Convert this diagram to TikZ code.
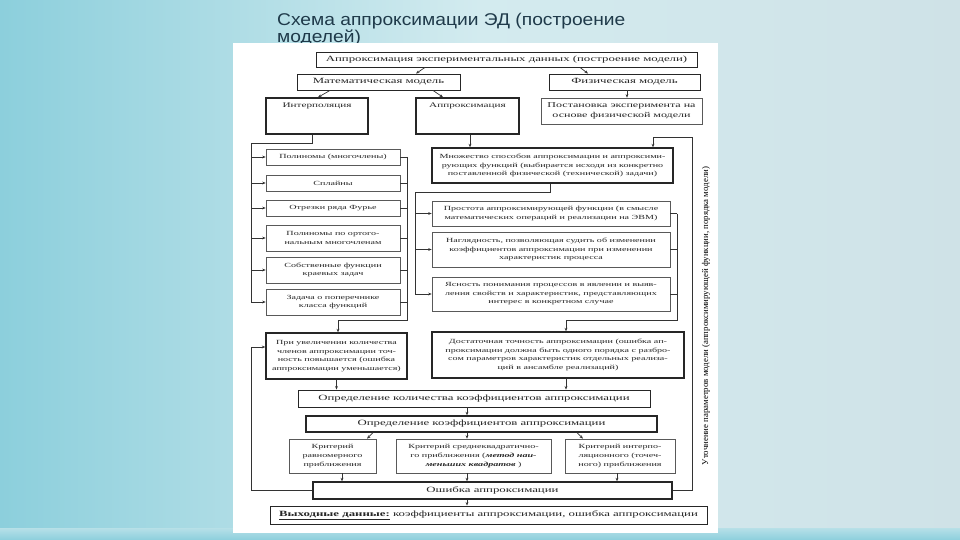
\documentclass[tikz,border=0pt]{standalone}
\usepackage{fontspec}
\setmainfont{Liberation Serif}
\newfontfamily\scanfont[FakeStretch=1.6]{Liberation Serif}
\newfontfamily\titlefont[FakeStretch=1.13]{Liberation Sans}
\usetikzlibrary{arrows.meta,shadows}
\definecolor{bgleft}{HTML}{8CCFDC}
\definecolor{bgmid}{HTML}{D3EBEF}
\definecolor{bgright}{HTML}{CFE2E7}
\definecolor{titlecol}{HTML}{1F3A4A}
\begin{document}
\begin{tikzpicture}[x=1pt, y=-1pt, >={Stealth[length=3.5pt,width=2.8pt]},
  every node/.style={text=black!85},
  sz/.style 2 args={minimum width=#1pt, minimum height=#2pt},
  bx/.style={draw=black!85, fill=white, line width=0.9pt, inner sep=1pt, align=center,
    font=\scanfont\fontsize{8}{9.5}\selectfont},
  thk/.style={bx, line width=1.4pt},
  thn/.style={bx, draw=black!65, line width=0.6pt,
    drop shadow={shadow xshift=1pt, shadow yshift=-1pt, fill=black!35, opacity=1}},
  sm/.style={font=\scanfont\fontsize{6.3}{8.6}\selectfont},
  md/.style={font=\scanfont\fontsize{7}{9}\selectfont},
  ln/.style={draw=black!80, line width=0.7pt}]
% background of the slide
\shade[left color=bgleft, right color=bgright, middle color=bgmid] (0,0) rectangle (960,540);
\shade[top color=bgmid!60!bgleft, bottom color=bgleft] (0,528) rectangle (960,540);
\useasboundingbox (0,0) rectangle (960,540);
\node[font=\titlefont\fontsize{17}{17.5}\selectfont, text=titlecol, align=left,
  anchor=north west, inner sep=0pt] (title) at (277,12.5) {Схема аппроксимации ЭД (построение\\моделей)};
\fill[white] (233,43) rectangle (718,533);

% upper part
\node[bx, sz={381}{15}] (top) at (506.5,59.5) {Аппроксимация экспериментальных данных (построение модели)};
\node[bx, sz={163}{16}] (math) at (378.5,82) {Математическая модель};
\node[bx, sz={151}{16}] (phys) at (624.5,82) {Физическая модель};
\node[thk, md, sz={102}{36}, text depth=22pt] (interp) at (317,116) {Интерполяция};
\node[thk, md, sz={103}{36}, text depth=22pt] (approx) at (467.5,116) {Аппроксимация};
\node[thn, font=\scanfont\fontsize{7.5}{9.5}\selectfont, sz={161}{26}] (setup) at (621.5,111) {Постановка эксперимента на\\основе физической модели};

% interpolation list
\node[thn, sm, sz={134}{16}] (poly) at (333,157) {Полиномы (многочлены)};
\node[thn, sm, sz={134}{16}] (spl) at (333,183) {Сплайны};
\node[thn, sm, sz={134}{16}] (four) at (333,208) {Отрезки ряда Фурье};
\node[thn, sm, sz={134}{26}] (orth) at (333,238) {Полиномы по ортого-\\нальным многочленам};
\node[thn, sm, sz={134}{26}] (eig) at (333,270) {Собственные функции\\краевых задач};
\node[thn, sm, sz={134}{26}] (width) at (333,302) {Задача о поперечнике\\класса функций};

% approximation list
\node[thk, sm, sz={241}{35}] (mnozh) at (552.5,165.5) {Множество способов аппроксимации и аппроксими-\\рующих функций (выбирается исходя из конкретно\\поставленной физической (технической) задачи)};
\node[thn, sm, sz={238}{25}] (prost) at (551,213.5) {Простота аппроксимирующей функции (в смысле\\математических операций и реализации на ЭВМ)};
\node[thn, sm, sz={238}{35}] (nagl) at (551,249.5) {Наглядность, позволяющая судить об изменении\\коэффициентов аппроксимации при изменении\\характеристик процесса};
\node[thn, sm, sz={238}{34}] (yasn) at (551,294) {Ясность понимания процессов в явлении и выяв-\\ления свойств и характеристик, представляющих\\интерес в конкретном случае};

% lower part
\node[thk, sm, sz={141}{46}] (pri) at (336.5,356) {При увеличении количества\\членов аппроксимации точ-\\ность повышается (ошибка\\аппроксимации уменьшается)};
\node[thk, sm, sz={252}{46}] (dost) at (558,355) {Достаточная точность аппроксимации (ошибка ап-\\проксимации должна быть одного порядка с разбро-\\сом параметров характеристик отдельных реализа-\\ций в ансамбле реализаций)};
\node[bx, sz={352}{17}] (kol) at (474,398.5) {Определение количества коэффициентов аппроксимации};
\node[thk, sz={351}{16}] (koef) at (481.5,424) {Определение коэффициентов аппроксимации};
\node[thn, sm, sz={87}{34}] (krit1) at (332.5,456) {Критерий\\равномерного\\приближения};
\node[thn, sm, sz={155}{34}] (krit2) at (473.5,456) {Критерий среднеквадратично-\\го приближения (\textbf{\textit{метод наи-}}\\\textbf{\textit{меньших квадратов}} )};
\node[thn, sm, sz={110}{34}] (krit3) at (620,456) {Критерий интерпо-\\ляционного (точеч-\\ного) приближения};
\node[thk, sz={359}{17}] (err) at (492.5,490.5) {Ошибка аппроксимации};
\node[bx, sz={437}{18}] (out) at (488.5,515) {\underline{\textbf{Выходные данные:}} коэффициенты аппроксимации, ошибка аппроксимации};
\node[font=\fontsize{8.8}{10}\selectfont, rotate=90, inner sep=0pt, text=black] (fbtext) at (706,316) {Уточнение параметров модели (аппроксимирующей функции, порядка модели)};

% connectors
\coordinate (lbus) at (251,0);
\coordinate (lrb) at (407,320);
\coordinate (rbus) at (415,192);
\coordinate (rrb) at (677,320);
\coordinate (mid) at (467,0);
\coordinate (fbl) at (251,347);
\coordinate (fbr) at (692,137);
\draw[ln,->] ([xshift=-81.5pt]top.south) -- ([xshift=37.5pt]math.north);
\draw[ln,->] ([xshift=73.5pt]top.south) -- ([xshift=-36.5pt]phys.north);
\draw[ln,->] ([xshift=-48.5pt]math.south) -- ([xshift=1pt]interp.north);
\draw[ln,->] ([xshift=54.5pt]math.south) -- ([xshift=-24.5pt]approx.north);
\draw[ln,->] ([xshift=2.5pt]phys.south) -- ([xshift=2.5pt]phys.south |- setup.north);
\draw[ln] ([xshift=-5pt]interp.south) -- ++(0,9) -| (width.west -| lbus);
\foreach \n in {poly,spl,four,orth,eig,width}
  \draw[ln,->] (\n.west -| lbus) -- (\n.west);
\foreach \n in {poly,spl,four,orth,eig,width}
  \draw[ln] (\n.east) -- (\n.east -| lrb);
\draw[ln,->] (poly.east -| lrb) -- (lrb) -| ([xshift=1.5pt]pri.north);
\draw[ln,->] ([xshift=2.5pt]approx.south) -- ([xshift=2.5pt]approx.south |- mnozh.north);
\draw[ln] ([xshift=-2.5pt]mnozh.south) |- (rbus) -- (yasn.west -| rbus);
\foreach \n in {prost,nagl,yasn}
  \draw[ln,->] (\n.west -| rbus) -- (\n.west);
\foreach \n in {prost,nagl,yasn}
  \draw[ln] (\n.east) -- (\n.east -| rrb);
\draw[ln,->] (prost.east -| rrb) -- (rrb) -| ([xshift=8pt]dost.north);
\draw[ln,->] (pri.south) -- (pri.south |- kol.north);
\draw[ln,->] ([xshift=8pt]dost.south) -- ([xshift=8pt]dost.south |- kol.north);
\draw[ln,->] (kol.south -| mid) -- (koef.north -| mid);
\draw[ln,->] ([xshift=-108.5pt]koef.south) -- ([xshift=34.5pt]krit1.north);
\draw[ln,->] (koef.south -| mid) -- (krit2.north -| mid);
\draw[ln,->] ([xshift=95.5pt]koef.south) -- ([xshift=-37pt]krit3.north);
\draw[ln,->] ([xshift=9.5pt]krit1.south) -- ([xshift=9.5pt]krit1.south |- err.north);
\draw[ln,->] (krit2.south -| mid) -- (err.north -| mid);
\draw[ln,->] ([xshift=-3pt]krit3.south) -- ([xshift=-3pt]krit3.south |- err.north);
\draw[ln,->] (err.south -| mid) -- (out.north -| mid);
\draw[ln,->] (err.west) -| (fbl) -- (fbl -| pri.west);
\draw[ln,->] (err.east) -| (fbr) -| ([xshift=100.5pt]mnozh.north);
\end{tikzpicture}
\end{document}
